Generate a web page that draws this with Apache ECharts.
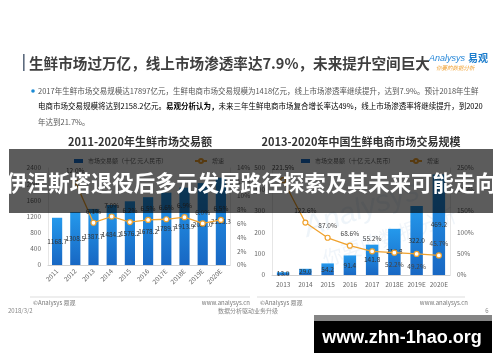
<!DOCTYPE html>
<html>
<head>
<meta charset="utf-8">
<script src="https://cdn.jsdelivr.net/npm/echarts@6/dist/echarts.min.js"></script>
<style>
html,body{margin:0;padding:0;background:#fff;}
#main{width:500px;height:362px;}
</style>
</head>
<body>
<div id="main"></div>
<script>
// ---- data ----
const leftYears = ['2011','2012','2013','2014','2015','2016','2017E','2018E','2019E','2020E'];
const leftSales = [1168.7,1308.5,1387.7,1484.2,1576.2,1678.2,1789.7,1913.9,2027.0,2158.3];
const leftGrowth = ['-',12.0,6.1,7.0,6.2,6.5,6.6,6.9,6.0,6.5];
const rightYears = ['2013','2014','2015','2016','2017','2018E','2019E','2020E'];
const rightSales = [13.0,29.0,54.2,91.4,141.8,215.8,322.0,469.2];
const rightGrowth = [221.5,122.6,87.0,68.6,55.2,52.2,49.2,45.7];
const rightGrowthLabelSide = ['top','top','top','top','top','bottom','bottom','top'];
const barName = '市场交易额（十亿 元人民币）';
const lineName = '增速';

const FONT = '"Noto Sans CJK SC", "Noto Sans", sans-serif';
const ORANGE = '#f0a22e';
const barGrad = new echarts.graphic.LinearGradient(0,0,0,1,[{offset:0,color:'#2499ec'},{offset:1,color:'#1867c3'}]);

const chart = echarts.init(document.getElementById('main'), null, {renderer:'canvas'});

function yAxisCommon(min,max,interval,suffix,pos,idx){
  return {
    type:'value', gridIndex:idx, position:pos, min:min, max:max, interval:interval,
    axisLabel:{fontSize:6.5, color:'#666', fontFamily:FONT, formatter:v=>String(v)+suffix, margin:7},
    axisLine:{show:true, lineStyle:{color:'#e6e6e6'}},
    axisTick:{show:false},
    splitLine:{show:false}
  };
}

const lineLabel = {show:true, position:'top', distance:5, fontSize:6.5, color:'#444', fontFamily:FONT, formatter:p=>p.value.toFixed(1)+'%'};

const option = {
  animation:false,
  textStyle:{fontFamily:FONT},
  grid:[
    {left:48, top:168, width:182, height:97},
    {left:272, top:168, width:178, height:107}
  ],
  xAxis:[
    {type:'category', gridIndex:0, data:leftYears,
     axisLabel:{fontSize:6.5, color:'#666', rotate:45, margin:5, interval:0},
     axisLine:{lineStyle:{color:'#d0d0d0'}}, axisTick:{show:false}},
    {type:'category', gridIndex:1, data:rightYears,
     axisLabel:{fontSize:6.5, color:'#666', margin:6, interval:0},
     axisLine:{lineStyle:{color:'#d0d0d0'}}, axisTick:{show:false}}
  ],
  yAxis:[
    yAxisCommon(0,2400,400,'','left',0),
    yAxisCommon(0,14,2,'%','right',0),
    yAxisCommon(0,500,100,'','left',1),
    yAxisCommon(0,250,50,'%','right',1)
  ],
  legend:[
    {data:[{name:barName, icon:'rect', itemStyle:{color:'#1a6fc9'}}], left:69, top:153, itemWidth:9, itemHeight:4, itemGap:4, textStyle:{fontSize:6, color:'#666'}},
    {data:[{name:lineName}], left:189, top:153, itemWidth:12, itemHeight:5, textStyle:{fontSize:6, color:'#666'}},
    {data:[{name:barName, icon:'rect', itemStyle:{color:'#1a6fc9'}}], left:296, top:153, itemWidth:9, itemHeight:4, textStyle:{fontSize:6, color:'#666'}},
    {data:[{name:lineName}], left:404, top:153, itemWidth:12, itemHeight:5, textStyle:{fontSize:6, color:'#666'}}
  ],
  series:[
    {name:barName, type:'bar', xAxisIndex:0, yAxisIndex:0, data:leftSales, barWidth:'56%',
     itemStyle:{color:barGrad},
     label:{show:true, position:'inside', fontSize:6.5, color:'#333', formatter:p=>p.value.toFixed(1)}},
    {name:lineName, type:'line', xAxisIndex:0, yAxisIndex:1, data:leftGrowth,
     symbol:'circle', symbolSize:5, lineStyle:{color:ORANGE, width:1.3},
     itemStyle:{color:'#fff', borderColor:ORANGE, borderWidth:1.2},
     label:lineLabel, z:5},
    {name:barName, type:'bar', xAxisIndex:1, yAxisIndex:2, data:rightSales, barWidth:'56%',
     itemStyle:{color:barGrad},
     label:{show:true, position:'inside', fontSize:6.5, color:'#333', formatter:p=>p.value.toFixed(1)}},
    {name:lineName, type:'line', xAxisIndex:1, yAxisIndex:3,
     data:rightGrowth.map((v,i)=>({value:v, label:{position:rightGrowthLabelSide[i]}})),
     symbol:'circle', symbolSize:5, lineStyle:{color:ORANGE, width:1.3},
     itemStyle:{color:'#fff', borderColor:ORANGE, borderWidth:1.2},
     label:Object.assign({}, lineLabel, {distance:6}), z:5}
  ],
  graphic:[
    {type:'text', x:300, y:215, rotation:0.33, z:1, style:{text:'Analysys', font:'italic 30px "Liberation Sans", sans-serif', fill:'rgba(150,185,220,0.16)'}},
    {type:'text', x:320, y:250, rotation:0.33, z:1, style:{text:'你要的数据分析', font:'20px '+FONT, fill:'rgba(150,185,220,0.14)'}},
    {type:'rect', shape:{x:23, y:54, width:1.6, height:17}, style:{fill:'#5d6b7e'}},
    {type:'text', x:29, y:63, style:{text:'生鲜市场过万亿，线上市场渗透率达7.9%，未来提升空间巨大', font:'bold 14.6px '+FONT, fill:'#3f3f3f', textVerticalAlign:'middle', verticalAlign:'middle'}},
    {type:'text', x:429, y:58, style:{text:'Analysys', font:'italic 9px "Liberation Sans", sans-serif', fill:'#2486d8', textVerticalAlign:'middle', verticalAlign:'middle'}},
    {type:'text', x:468, y:58, style:{text:'易观', font:'bold 10px '+FONT, fill:'#1b7ccc', textVerticalAlign:'middle', verticalAlign:'middle'}},
    {type:'text', x:436, y:68, style:{text:'你要的数据分析', font:'italic 5.5px '+FONT, fill:'#f0a030', textVerticalAlign:'middle', verticalAlign:'middle'}},
    {type:'circle', shape:{cx:33, cy:91, r:1.8}, style:{fill:'#1a8ad4'}},
    {type:'text', x:38, y:91, style:{text:'2017年生鲜市场交易规模达17897亿元，生鲜电商市场交易规模为1418亿元，线上市场渗透率继续提升，达到7.9%。预计2018年生鲜', font:'7.5px '+FONT, fill:'#555', textVerticalAlign:'middle', verticalAlign:'middle'}},
    {type:'text', x:38, y:106.5, style:{text:'{n|电商市场交易规模将达到2158.2亿元。}{b|易观分析认为，}{n|未来三年生鲜电商市场复合增长率达49%，线上市场渗透率将继续提升，到2020}',
      rich:{n:{fontSize:7.5, fontFamily:FONT, color:'#555'}, b:{fontSize:7.5, fontFamily:FONT, fontWeight:'bold', color:'#333'}}, textVerticalAlign:'middle', verticalAlign:'middle'}},
    {type:'text', x:38, y:122, style:{text:'年达到21.7%。', font:'7.5px '+FONT, fill:'#555', textVerticalAlign:'middle', verticalAlign:'middle'}},
    {type:'text', x:140, y:142, style:{text:'2011-2020年生鲜市场交易额', font:'bold 11px '+FONT, fill:'#333', textAlign:'center', align:'center', textVerticalAlign:'middle', verticalAlign:'middle'}},
    {type:'text', x:361, y:142, style:{text:'2013-2020年中国生鲜电商市场交易规模', font:'bold 11px '+FONT, fill:'#333', textAlign:'center', align:'center', textVerticalAlign:'middle', verticalAlign:'middle'}},
    {type:'line', shape:{x1:30, y1:297, x2:250, y2:297}, style:{stroke:'#dddddd', lineWidth:1}},
    {type:'line', shape:{x1:257, y1:297, x2:465, y2:297}, style:{stroke:'#dddddd', lineWidth:1}},
    {type:'text', x:33, y:302.5, style:{text:'©Analysys 易观', font:'6px '+FONT, fill:'#777', textVerticalAlign:'middle', verticalAlign:'middle'}},
    {type:'text', x:250, y:302.5, style:{text:'www.analysys.cn', font:'6px '+FONT, fill:'#777', textAlign:'right', align:'right', textVerticalAlign:'middle', verticalAlign:'middle'}},
    {type:'text', x:260, y:302.5, style:{text:'©Analysys 易观', font:'6px '+FONT, fill:'#777', textVerticalAlign:'middle', verticalAlign:'middle'}},
    {type:'text', x:468, y:302.5, style:{text:'www.analysys.cn', font:'6px '+FONT, fill:'#777', textAlign:'right', align:'right', textVerticalAlign:'middle', verticalAlign:'middle'}},
    {type:'text', x:8, y:311, style:{text:'2018/3/2', font:'6px '+FONT, fill:'#888', textVerticalAlign:'middle', verticalAlign:'middle'}},
    {type:'text', x:248, y:311, style:{text:'数据分析驱动业务升级', font:'6px '+FONT, fill:'#888', textAlign:'center', align:'center', textVerticalAlign:'middle', verticalAlign:'middle'}},
    {type:'text', x:487, y:311, style:{text:'6', font:'6px '+FONT, fill:'#888', textAlign:'center', align:'center', textVerticalAlign:'middle', verticalAlign:'middle'}},
    {type:'rect', z:100, shape:{x:9, y:149, width:484, height:64}, style:{fill:'rgba(0,0,0,0.64)'}},
    {type:'text', z:101, x:251, y:183, scaleX:0.97, style:{text:'伊涅斯塔退役后多元发展路径探索及其未来可能走向', font:'bold 22px '+FONT, fill:'#ffffff', textAlign:'center', align:'center', textVerticalAlign:'middle', verticalAlign:'middle'}},
    {type:'rect', z:100, shape:{x:314, y:315, width:178, height:6}, style:{fill:'#858585'}},
    {type:'rect', z:100, shape:{x:314, y:321, width:178, height:32}, style:{fill:'#000000'}},
    {type:'text', z:101, x:402, y:338, style:{text:'www.zhn-1hao.org', font:'bold 18px "Liberation Sans", Arial, sans-serif', fill:'#ffffff', textAlign:'center', align:'center', textVerticalAlign:'middle', verticalAlign:'middle'}}
  ]
};
chart.setOption(option);
</script>
</body>
</html>
